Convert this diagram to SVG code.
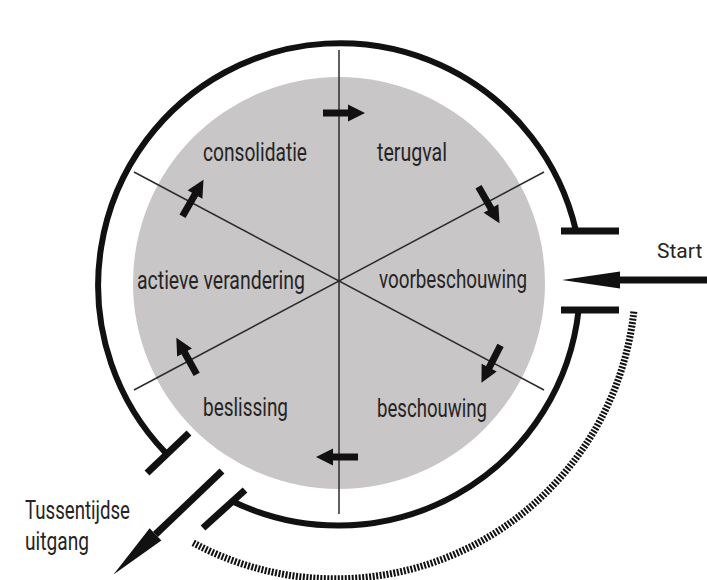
<svg xmlns="http://www.w3.org/2000/svg" xmlns:xlink="http://www.w3.org/1999/xlink" width="707" height="580" viewBox="0 0 707 580">
<style>
.lbl{font-family:"Liberation Sans Narrow","Roboto","DejaVu Sans",sans-serif;font-size:26px;fill:#262424}
.ring{fill:none;stroke:#111;stroke-width:6}
.cap{stroke:#111;stroke-width:7}
.spoke{stroke:#2b2b2b;stroke-width:1.5}
.thick{stroke:#111;stroke-width:7;fill:none}
.dots{fill:none;stroke:#111;stroke-width:7;stroke-dasharray:2 1.5}
</style>
<defs>
<path id="arr" d="M-21,-3.5 H4 V-8.5 L21,0 L4,8.5 V3.5 H-21 Z" fill="#111"/>
<marker id="head" markerUnits="userSpaceOnUse" markerWidth="60" markerHeight="24" viewBox="0 -10 60 20" refX="0" refY="0" orient="auto" overflow="visible">
<path d="M0,-8.5 L58,0 L0,8.5 Z" fill="#111"/>
</marker>
</defs>
<rect width="707" height="580" fill="#fff"/>
<g id="disk">
<circle cx="339" cy="283" r="206" fill="#c8c6c6"/>
</g>
<g id="spokes">
<line class="spoke" x1="339" y1="50" x2="339" y2="514"/>
<line class="spoke" x1="134" y1="172" x2="544" y2="390"/>
<line class="spoke" x1="134" y1="390" x2="544" y2="172"/>
</g>
<g id="ring">
<path class="ring" d="M578.6,310 A242,242 0 0 1 234.4,502.2"/>
<path class="ring" d="M165.5,452.7 A242,242 0 1 1 576,231"/>
<line class="cap" x1="561" y1="231" x2="619" y2="231"/>
<line class="cap" x1="561" y1="310" x2="619" y2="310"/>
<line class="cap" x1="147" y1="473" x2="189" y2="433"/>
<line class="cap" x1="203" y1="528" x2="245" y2="490"/>
</g>
<g id="cycle-arrows">
<use xlink:href="#arr" href="#arr" transform="translate(344,113)"/>
<use xlink:href="#arr" href="#arr" transform="translate(489,205) rotate(60)"/>
<use xlink:href="#arr" href="#arr" transform="translate(491,364) rotate(117)"/>
<use xlink:href="#arr" href="#arr" transform="translate(337,457) rotate(180)"/>
<use xlink:href="#arr" href="#arr" transform="translate(186.5,356) rotate(241)"/>
<use xlink:href="#arr" href="#arr" transform="translate(193,198) rotate(-60)"/>
</g>
<g id="connectors">
<line class="thick" x1="707" y1="280" x2="620" y2="280" stroke-width="6" marker-end="url(#head)"/>
<line class="thick" x1="222" y1="471" x2="155.5" y2="534.4" marker-end="url(#head)"/>
<path class="dots" d="M633.8,311.7 A300,300 0 0 1 192.9,542.7"/>
</g>
<g id="labels">
<text class="lbl" x="203" y="161" textLength="104" lengthAdjust="spacingAndGlyphs">consolidatie</text>
<text class="lbl" x="377" y="161" textLength="70" lengthAdjust="spacingAndGlyphs">terugval</text>
<text class="lbl" x="137" y="289" textLength="168" lengthAdjust="spacingAndGlyphs">actieve verandering</text>
<text class="lbl" x="379" y="288" textLength="148" lengthAdjust="spacingAndGlyphs">voorbeschouwing</text>
<text class="lbl" x="203" y="416" textLength="85" lengthAdjust="spacingAndGlyphs">beslissing</text>
<text class="lbl" x="377" y="417" textLength="110" lengthAdjust="spacingAndGlyphs">beschouwing</text>
<text class="lbl" x="657" y="258" style="font-size:21px">Start</text>
<text class="lbl" x="25" y="519" textLength="105" lengthAdjust="spacingAndGlyphs">Tussentijdse</text>
<text class="lbl" x="25" y="550" textLength="64" lengthAdjust="spacingAndGlyphs">uitgang</text>
</g>
</svg>
